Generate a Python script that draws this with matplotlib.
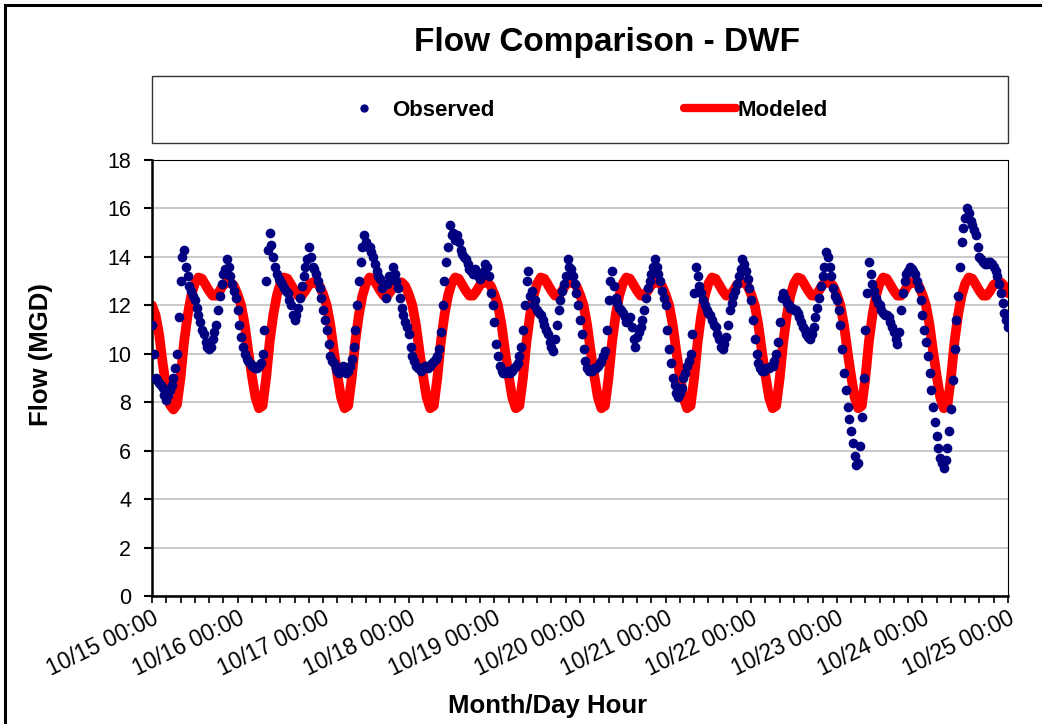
import numpy as np
import pandas as pd
import matplotlib
matplotlib.use("Agg")
import matplotlib.pyplot as plt
import matplotlib.dates as mdates
from matplotlib.lines import Line2D
from matplotlib.patches import Rectangle

plt.rcParams['font.family'] = ['Liberation Sans', 'DejaVu Sans']

# Observed flow (MGD) every 30 min, 10/15 00:00 .. 10/25 00:00, one row per day
observed_days = [
    [11.2, 10.0, 9.0, 8.9, 8.8, 8.7, 8.6, 8.3, 8.1, 8.3, 8.5, 8.7,
     9.0, 9.4, 10.0, 11.5, 13.0, 14.0, 14.3, 13.6, 13.2, 12.8, 12.6, 12.4,
     12.2, 11.9, 11.6, 11.3, 11.0, 10.8, 10.5, 10.3, 10.2, 10.3, 10.6, 10.9,
     11.2, 11.8, 12.4, 12.9, 13.3, 13.5, 13.9, 13.6, 13.2, 12.9, 12.6, 12.3],
    [11.8, 11.2, 10.7, 10.3, 10.0, 9.8, 9.7, 9.6, 9.5, 9.5, 9.4, 9.4,
     9.5, 9.6, 10.0, 11.0, 13.0, 14.3, 15.0, 14.5, 14.0, 13.6, 13.3, 13.1,
     13.0, 12.9, 12.7, 12.6, 12.5, 12.2, 12.0, 11.6, 11.4, 11.6, 11.9, 12.3,
     12.8, 13.2, 13.6, 13.9, 14.4, 14.0, 13.6, 13.5, 13.3, 13.0, 12.7, 12.3],
    [11.8, 11.4, 11.0, 10.4, 9.9, 9.7, 9.6, 9.4, 9.3, 9.2, 9.4, 9.5,
     9.4, 9.2, 9.3, 9.5, 9.8, 10.3, 11.0, 12.0, 13.0, 13.8, 14.4, 14.9,
     14.6, 14.4, 14.4, 14.2, 14.0, 13.7, 13.4, 13.2, 13.1, 12.7, 12.9, 12.3,
     12.9, 13.2, 13.1, 13.6, 13.3, 13.0, 12.7, 12.3, 11.9, 11.6, 11.3, 11.1],
    [10.8, 10.3, 9.9, 9.7, 9.5, 9.4, 9.4, 9.3, 9.4, 9.5, 9.5, 9.4,
     9.5, 9.6, 9.7, 9.8, 9.9, 10.2, 10.9, 12.0, 13.0, 13.8, 14.4, 15.3,
     14.9, 15.0, 14.7, 14.9, 14.6, 14.3, 14.1, 14.0, 13.9, 13.7, 13.5, 13.4,
     13.3, 13.5, 13.3, 13.2, 13.1, 13.3, 13.4, 13.7, 13.6, 13.2, 12.5, 12.0],
    [11.3, 10.4, 9.9, 9.5, 9.3, 9.2, 9.2, 9.3, 9.3, 9.2, 9.3, 9.4,
     9.5, 9.6, 9.9, 10.3, 11.0, 12.0, 13.0, 13.4, 12.4, 12.6, 12.0, 12.2,
     11.8, 11.7, 11.6, 11.4, 11.2, 11.0, 10.8, 10.5, 10.3, 10.1, 10.6, 11.2,
     11.8, 12.2, 12.6, 12.9, 13.2, 13.9, 13.6, 13.5, 13.2, 12.9, 12.5, 12.0],
    [11.4, 10.8, 10.2, 9.7, 9.4, 9.3, 9.3, 9.3, 9.4, 9.4, 9.5, 9.6,
     9.7, 9.9, 10.1, 11.0, 12.2, 13.0, 13.4, 12.8, 12.3, 12.1, 11.9, 11.8,
     11.7, 11.5, 11.3, 11.4, 11.5, 11.1, 10.6, 10.3, 10.7, 10.9, 11.1, 11.4,
     11.8, 12.3, 12.7, 13.0, 13.3, 13.6, 13.9, 13.6, 13.3, 13.0, 12.6, 12.3],
    [12.0, 11.0, 10.2, 9.6, 9.0, 8.7, 8.4, 8.2, 8.4, 8.6, 9.0, 9.2,
     9.5, 9.7, 10.0, 10.8, 12.5, 13.6, 13.2, 12.8, 12.5, 12.2, 12.0, 11.8,
     11.7, 11.6, 11.4, 11.2, 11.1, 10.8, 10.6, 10.3, 10.2, 10.4, 10.7, 11.2,
     11.8, 12.1, 12.4, 12.6, 12.9, 13.2, 13.5, 13.9, 13.7, 13.4, 13.1, 12.7],
    [12.2, 11.4, 10.6, 10.0, 9.6, 9.4, 9.3, 9.3, 9.4, 9.4, 9.4, 9.5,
     9.5, 9.7, 10.0, 10.5, 11.3, 12.3, 12.5, 12.3, 12.1, 12.0, 11.9, 11.9,
     11.8, 11.8, 11.7, 11.5, 11.3, 11.1, 11.0, 10.8, 10.7, 10.6, 10.8, 11.1,
     11.5, 11.9, 12.3, 12.8, 13.2, 13.6, 14.2, 14.0, 13.6, 13.2, 12.7, 12.4],
    [12.2, 11.8, 11.2, 10.2, 9.2, 8.5, 7.8, 7.3, 6.8, 6.3, 5.8, 5.4,
     5.5, 6.2, 7.4, 9.0, 11.0, 12.5, 13.8, 13.3, 12.9, 12.6, 12.3, 12.1,
     12.0, 11.8, 11.7, 11.6, 11.6, 11.5, 11.3, 11.1, 10.9, 10.6, 10.4, 10.9,
     11.8, 12.5, 13.0, 13.3, 13.4, 13.6, 13.5, 13.4, 13.3, 13.0, 12.7, 12.2],
    [11.6, 11.0, 10.5, 9.9, 9.2, 8.5, 7.8, 7.2, 6.6, 6.1, 5.7, 5.5,
     5.3, 5.6, 6.1, 6.8, 7.7, 8.9, 10.2, 11.4, 12.4, 13.6, 14.6, 15.2,
     15.6, 16.0, 15.8, 15.5, 15.3, 15.1, 14.9, 14.4, 14.0, 13.9, 13.8, 13.7,
     13.7, 13.8, 13.8, 13.7, 13.6, 13.4, 13.2, 12.9, 12.5, 12.1, 11.7, 11.4],
]
observed_end = [11.1]
observed = [v for day in observed_days for v in day] + observed_end

# Modeled flow (MGD) every hour, one row per day
modeled_days = [
    [12.0, 11.6, 10.8, 9.6, 8.6, 7.9, 7.7, 7.9, 9.0, 10.5, 11.6, 12.4,
     12.9, 13.15, 13.1, 12.85, 12.6, 12.4, 12.4, 12.6, 12.85, 12.95, 12.95, 12.8],
] + [
    [12.45, 12.0, 11.2, 10.1, 9.1, 8.2, 7.75, 7.85, 9.0, 10.5, 11.6, 12.4,
     12.9, 13.15, 13.1, 12.85, 12.6, 12.4, 12.4, 12.6, 12.85, 12.95, 12.95, 12.8]
    for _ in range(9)
]
modeled_end = [12.5]
modeled = [v for day in modeled_days for v in day] + modeled_end

t_obs = pd.date_range("2008-10-15 00:00", periods=len(observed), freq="30min")
t_mod = pd.date_range("2008-10-15 00:00", periods=len(modeled), freq="h")

fig = plt.figure(figsize=(10.42, 7.24), dpi=100)
ax = fig.add_axes([152 / 1042, 1 - 596 / 724, (1008 - 152) / 1042, (596 - 160) / 724])

ax.plot(t_mod, modeled, color="red", lw=7, zorder=2, solid_capstyle="round")
ax.plot(t_obs, observed, ls="none", marker="o", ms=7, color="#000080",
        markeredgewidth=0, zorder=3)

ax.set_xlim(t_obs[0], t_obs[-1])
ax.set_ylim(0, 18)
ax.set_yticks(np.arange(0, 19, 2))
ax.yaxis.grid(True, color="#c0c0c0", lw=1.2)
ax.set_axisbelow(True)

ax.xaxis.set_major_locator(mdates.DayLocator())
ax.xaxis.set_minor_locator(mdates.HourLocator(byhour=range(0, 24, 4)))
ax.xaxis.set_major_formatter(mdates.DateFormatter("%m/%d %H:%M"))
for lab in ax.get_xticklabels():
    lab.set_rotation(26)
    lab.set_ha("right")
    lab.set_rotation_mode("anchor")

ax.tick_params(axis="x", which="both", direction="out", length=5, width=1.2,
               labelsize=16.5, pad=3)
ax.tick_params(axis="y", direction="out", length=6, width=1.5, labelsize=15.5, pad=9)

for side in ("left", "bottom"):
    ax.spines[side].set_linewidth(1.8)
for side in ("top", "right"):
    ax.spines[side].set_linewidth(0.8)

fig.text(607 / 1042, 1 - 43 / 724, "Flow Comparison - DWF", ha="center", va="center",
         fontsize=24, fontweight="bold")
fig.text(41 / 1042, 1 - 355 / 724, "Flow (MGD)", rotation=90, ha="center", va="center",
         fontsize=18.5, fontweight="bold")
fig.text(548 / 1042, 1 - 706 / 724, "Month/Day Hour", ha="center", va="center",
         fontsize=18.5, fontweight="bold")

# legend box
fig.patches.append(Rectangle((152 / 1042, 1 - 143 / 724), (1008 - 152) / 1042, 67 / 724,
                             transform=fig.transFigure, fill=False, edgecolor="#333333",
                             lw=1.0))
handles = [
    Line2D([], [], ls="none", marker="o", ms=6, color="#000080", markeredgewidth=0),
    Line2D([], [], color="red", lw=6, solid_capstyle="round"),
]
fig.legend(handles, ["Observed", "Modeled"], loc="center", ncol=2, frameon=False,
           bbox_to_anchor=(583 / 1042, 1 - 110 / 724),
           prop={"weight": "bold", "size": 16},
           handlelength=2.35, handletextpad=0.1, columnspacing=8.5)

# outer border (left and top edges visible)
fig.add_artist(Line2D([5 / 1042, 5 / 1042], [-0.05, 1 - 5 / 724], transform=fig.transFigure,
                      color="black", lw=2.2))
fig.add_artist(Line2D([5 / 1042, 1.05], [1 - 5 / 724, 1 - 5 / 724], transform=fig.transFigure,
                      color="black", lw=2.2))

fig.savefig("out.png", dpi=100)
